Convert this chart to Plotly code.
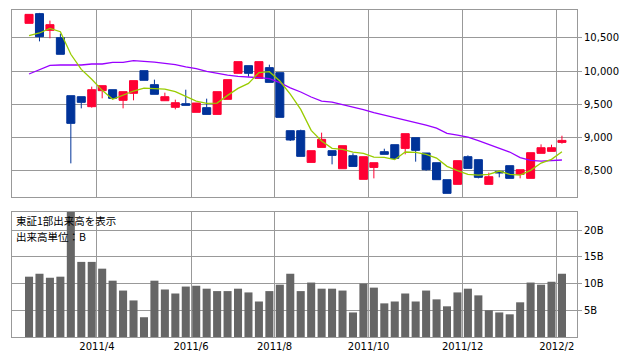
import pandas as pd
import plotly.graph_objects as go
from plotly.subplots import make_subplots

# Weekly dates (Monday of each week)
dates = [d.strftime("%Y-%m-%d") for d in pd.date_range("2011-02-14", periods=52, freq="7D")]

open_ = [10722, 10869, 10616, 10505, 9626, 9611, 9460, 9702, 9717, 9556,
         9662, 10005, 9793, 9550, 9450, 9505, 9374, 9445, 9343, 9571,
         9965, 10081, 9889, 10051, 9975, 9096, 9096, 8616, 8843, 8793,
         8520, 8717, 8359, 8540, 8778, 8884, 8828, 8990, 8758, 8611,
         8354, 8283, 8702, 8657, 8283, 8480, 8566, 8435, 8374, 8753,
         8783, 8919]
high = [10858, 10880, 10763, 10566, 9626, 9611, 9763, 9778, 9717, 9687,
        9854, 10005, 9869, 9672, 9566, 9717, 9515, 9581, 9687, 9869,
        10142, 10081, 10142, 10096, 9975, 9096, 9111, 8793, 9066, 8793,
        8869, 8753, 8702, 8611, 8823, 8884, 9051, 8990, 8758, 8611,
        8354, 8642, 8722, 8657, 8460, 8495, 8566, 8505, 8763, 8889,
        8884, 9020]
low = [10722, 10449, 10495, 10253, 8601, 9434, 9445, 9586, 9586, 9434,
       9556, 9859, 9647, 9550, 9419, 9480, 9374, 9343, 9343, 9571,
       9965, 9914, 9889, 9828, 9298, 8940, 8707, 8616, 8843, 8586,
       8520, 8555, 8359, 8374, 8738, 8677, 8738, 8627, 8490, 8354,
       8147, 8283, 8525, 8374, 8283, 8389, 8374, 8374, 8374, 8753,
       8783, 8899]
close = [10858, 10520, 10702, 10253, 9207, 9525, 9717, 9778, 9586, 9687,
         9854, 9859, 9647, 9611, 9520, 9480, 9515, 9343, 9687, 9869,
         10142, 9965, 10142, 9828, 9298, 8955, 8707, 8793, 8965, 8722,
         8869, 8555, 8702, 8611, 8738, 8677, 9051, 8798, 8505, 8354,
         8147, 8642, 8525, 8389, 8399, 8455, 8374, 8505, 8763, 8838,
         8838, 8949]

ma_short = [10535, 10576, 10646, 10596, 10253, 10025, 9874, 9707, 9571, 9636,
            9697, 9742, 9732, 9727, 9687, 9621, 9545, 9510, 9515, 9631,
            9737, 9813, 9975, 9990, 9849, 9650, 9419, 9101, 8940, 8828,
            8813, 8773, 8753, 8697, 8692, 8657, 8773, 8768, 8738, 8682,
            8556, 8490, 8435, 8424, 8435, 8485, 8435, 8424, 8495, 8606,
            8662, 8778]
ma_long = [9955, 10025, 10086, 10091, 10091, 10091, 10106, 10106, 10131, 10131,
           10157, 10152, 10136, 10116, 10096, 10061, 10035, 9995, 9965, 9939,
           9919, 9914, 9899, 9884, 9823, 9745, 9682, 9606, 9545, 9530,
           9495, 9460, 9414, 9369, 9333, 9293, 9253, 9227, 9182, 9136,
           9056, 9030, 9000, 8945, 8889, 8839, 8773, 8687, 8647, 8636,
           8647, 8652]

volume = [11.3, 11.85, 11.1, 11.3, 25.0, 14.07, 14.07, 12.8, 10.55, 8.7,
          6.85, 3.7, 10.55, 8.9, 8.15, 9.45, 9.6, 9.05, 8.6, 8.6,
          9.05, 8.35, 6.65, 8.6, 9.8, 11.85, 8.6, 10.2, 9.05, 9.05,
          8.7, 4.6, 10.0, 9.25, 6.3, 6.65, 8.15, 6.65, 8.7, 7.05,
          5.75, 8.35, 9.05, 7.8, 5.0, 4.6, 4.25, 6.5, 10.2, 9.8,
          10.35, 11.85]

price_ticks = [8500, 9000, 9500, 10000, 10500]
price_ticktext = ["8,500", "9,000", "9,500", "10,000", "10,500"]
vol_ticks = [5, 10, 15, 20]
vol_ticktext = ["5B", "10B", "15B", "20B"]
note_lines = ["東証1部出来高を表示", "出来高単位：B"]

x = list(range(len(dates)))
pdates = pd.to_datetime(dates)
month_ticks, month_text = [], []
for i in range(1, len(pdates)):
    if pdates[i].month != pdates[i - 1].month and pdates[i].month % 2 == 0:
        month_ticks.append(i - 0.5)
        month_text.append(f"{pdates[i].year}/{pdates[i].month}")

RED = "#FF0033"
BLUE = "#003399"
GRID = "#999999"

fig = make_subplots(rows=2, cols=1, shared_xaxes=True)

fig.add_trace(go.Candlestick(
    x=x, open=open_, high=high, low=low, close=close,
    increasing=dict(line=dict(color=RED, width=1), fillcolor=RED),
    decreasing=dict(line=dict(color=BLUE, width=1), fillcolor=BLUE),
    whiskerwidth=0, showlegend=False, hoverinfo="skip"), row=1, col=1)

fig.add_trace(go.Scatter(x=x, y=ma_long, mode="lines", line=dict(color="#9900FF", width=1.3),
                         showlegend=False, hoverinfo="skip"), row=1, col=1)
fig.add_trace(go.Scatter(x=x, y=ma_short, mode="lines", line=dict(color="#99CC00", width=1.3),
                         showlegend=False, hoverinfo="skip"), row=1, col=1)

fig.add_trace(go.Bar(x=x, y=volume, marker=dict(color="#666666", line=dict(width=0)),
                     showlegend=False, hoverinfo="skip"), row=2, col=1)

axis_common = dict(showline=True, linecolor=GRID, linewidth=1, mirror=True,
                   showgrid=True, gridcolor=GRID, gridwidth=1, zeroline=False)

fig.update_xaxes(range=[-1.63, 52.44], tickvals=month_ticks, ticktext=month_text,
                 ticks="", rangeslider=dict(visible=False), **axis_common)
fig.update_xaxes(showticklabels=False, row=1, col=1)
fig.update_xaxes(showticklabels=True, row=2, col=1,
                 tickfont=dict(family="DejaVu Sans", size=10, color="#000000"))

fig.update_yaxes(side="right", ticks="outside", ticklen=4, tickcolor=GRID,
                 tickfont=dict(family="DejaVu Sans", size=10, color="#000000"), **axis_common)
fig.update_yaxes(range=[8091, 10924], tickvals=price_ticks, ticktext=price_ticktext, row=1, col=1)
fig.update_yaxes(range=[0, 23.4], tickvals=vol_ticks, ticktext=vol_ticktext, row=2, col=1)

for k, line in enumerate(note_lines):
    fig.add_annotation(xref="paper", yref="paper", x=0.006, y=0.381 - k * 0.047,
                       xanchor="left", yanchor="top", text=line, showarrow=False,
                       align="left", borderpad=0,
                       font=dict(family="Noto Sans CJK JP", size=10.5, color="#000000"))

fig.update_layout(width=622, height=346, margin=dict(l=4, r=53, t=2, b=17),
                  paper_bgcolor="white", plot_bgcolor="white",
                  yaxis=dict(domain=[0.428, 1.0]), yaxis2=dict(domain=[0.0, 0.382]),
                  boxgap=0.23, boxgroupgap=0, bargap=0.23)

fig.write_html("out.html")
